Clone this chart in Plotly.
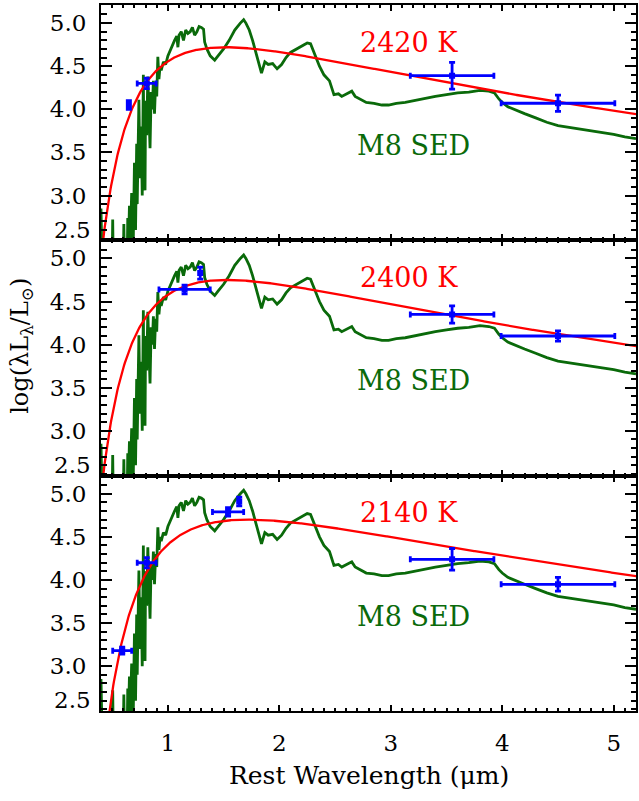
import numpy as np
import plotly.graph_objects as go
from plotly.subplots import make_subplots

# ---- M8 template spectral energy distribution (rest wavelength [micron], log lambda L_lambda) ----
sed_wave = [0.400, 0.403, 0.41, 0.50, 0.505, 0.51, 0.60, 0.605, 0.61, 0.635, 0.64, 0.645,
            0.655, 0.66, 0.675, 0.68, 0.69, 0.70, 0.71, 0.72, 0.725, 0.74, 0.75, 0.76,
            0.77, 0.78, 0.785, 0.795, 0.80, 0.81, 0.82, 0.83, 0.84, 0.85, 0.86, 0.87,
            0.88, 0.89, 0.90, 0.91, 0.92, 0.93, 0.94, 0.96, 0.98, 1.00, 1.03, 1.06,
            1.08, 1.09, 1.10, 1.12, 1.14, 1.16, 1.18, 1.20, 1.22, 1.24, 1.26, 1.28,
            1.30, 1.32, 1.33, 1.35, 1.38, 1.42, 1.45, 1.50, 1.55, 1.60, 1.65, 1.68,
            1.70, 1.73, 1.76, 1.80, 1.84, 1.87, 1.90, 1.94, 1.98, 2.02, 2.06, 2.10,
            2.15, 2.20, 2.25, 2.28, 2.32, 2.36, 2.40, 2.45, 2.49, 2.53, 2.56, 2.60,
            2.65, 2.68, 2.72, 2.78, 2.85, 2.92, 2.98, 3.05, 3.13, 3.20, 3.30, 3.40,
            3.50, 3.60, 3.70, 3.80, 3.88, 3.93, 3.97, 4.00, 4.05, 4.12, 4.20, 4.30,
            4.40, 4.50, 4.60, 4.70, 4.80, 4.90, 5.00, 5.10, 5.20]
sed_logl = [2.85, 2.30, 2.20, 2.20, 2.72, 2.20, 2.20, 2.67, 2.20, 2.20, 2.74, 2.30,
            2.88, 2.30, 3.03, 2.40, 2.50, 3.38, 2.60, 3.60, 2.90, 4.11, 3.20, 3.80,
            3.00, 4.40, 3.50, 3.06, 4.10, 3.70, 4.38, 3.90, 3.55, 4.20, 4.00, 4.33,
            3.95, 4.30, 4.15, 4.61, 4.35, 4.50, 4.45, 4.55, 4.52, 4.62, 4.72, 4.80,
            4.85, 4.72, 4.86, 4.90, 4.80, 4.92, 4.88, 4.90, 4.95, 4.86, 4.90, 4.96,
            4.95, 4.93, 4.78, 4.70, 4.62, 4.57, 4.62, 4.70, 4.80, 4.92, 5.00, 5.04,
            5.00, 4.92, 4.80, 4.62, 4.42, 4.55, 4.52, 4.53, 4.47, 4.52, 4.60, 4.66,
            4.70, 4.74, 4.77, 4.76, 4.62, 4.50, 4.40, 4.33, 4.17, 4.18, 4.15, 4.18,
            4.21, 4.15, 4.12, 4.08, 4.07, 4.05, 4.05, 4.07, 4.08, 4.10, 4.13, 4.15,
            4.17, 4.19, 4.20, 4.22, 4.21, 4.19, 4.12, 4.08, 4.03, 3.99, 3.95, 3.90,
            3.85, 3.81, 3.79, 3.77, 3.75, 3.73, 3.71, 3.68, 3.66]

# ---- blackbody fits: temperature and peak log lambda L_lambda per panel ----
bb_temps = [2420, 2400, 2140]
bb_peak = [4.72, 4.75, 4.70]

# ---- photometry per panel ----
phot_wave = [[0.65, 0.81, 3.55, 4.50],
             [1.15, 1.29, 3.55, 4.50],
             [0.59, 0.81, 1.54, 1.64, 3.55, 4.50]]
phot_logl = [[4.05, 4.30, 4.39, 4.07],
             [4.64, 4.83, 4.35, 4.10],
             [3.18, 4.20, 4.79, 4.91, 4.24, 3.95]]
phot_xerr = [[0.0, 0.085, 0.375, 0.51],
             [0.23, 0.0, 0.375, 0.51],
             [0.085, 0.085, 0.14, 0.0, 0.375, 0.51]]
phot_yerr = [[0.05, 0.06, 0.155, 0.095],
             [0.05, 0.07, 0.10, 0.06],
             [0.04, 0.06, 0.05, 0.05, 0.125, 0.08]]

y_ticks = [3.0, 3.5, 4.0, 4.5, 5.0]
y_ticktext = ["3.0", "3.5", "4.0", "4.5", "5.0"]
x_ticks = [1, 2, 3, 4, 5]

RED = "#ff0000"
GREEN = "#0a6a0a"
BLUE = "#0000ff"
FONT = "DejaVu Serif"

X_RANGE = [0.4, 5.2]
Y_RANGE = [2.48, 5.21]


def planck_log(wave_um, temp, peak):
    """log10 of lambda*B_lambda, scaled so its maximum equals `peak`."""
    x = 14387.77 / (np.asarray(wave_um) * temp)
    shape = x ** 4 / np.expm1(x)
    xp = np.linspace(3.5, 4.3, 2001)
    smax = np.max(xp ** 4 / np.expm1(xp))
    return peak + np.log10(shape / smax)


fig = make_subplots(rows=3, cols=1, shared_xaxes=True, vertical_spacing=0)

model_wave = np.linspace(0.38, 5.3, 800)

for i in range(3):
    row = i + 1
    # template spectrum
    fig.add_trace(go.Scatter(x=sed_wave, y=sed_logl, mode="lines",
                             line=dict(color=GREEN, width=2.8),
                             showlegend=False, hoverinfo="skip"), row=row, col=1)
    # blackbody
    fig.add_trace(go.Scatter(x=model_wave,
                             y=planck_log(model_wave, bb_temps[i], bb_peak[i]),
                             mode="lines", line=dict(color=RED, width=2.3),
                             showlegend=False, hoverinfo="skip"), row=row, col=1)
    # photometry with error bars
    fig.add_trace(go.Scatter(x=phot_wave[i], y=phot_logl[i], mode="markers",
                             marker=dict(color=BLUE, size=6, symbol="square"),
                             error_x=dict(type="data", array=phot_xerr[i], color=BLUE,
                                          thickness=2.8, width=3),
                             error_y=dict(type="data", array=phot_yerr[i], color=BLUE,
                                          thickness=2.8, width=3),
                             showlegend=False, hoverinfo="skip"), row=row, col=1)

    yref = "y" if row == 1 else f"y{row}"
    xref = "x" if row == 1 else f"x{row}"
    fig.add_annotation(x=3.16, y=4.78, xref=xref, yref=yref,
                       text=f"{bb_temps[i]} K", showarrow=False,
                       font=dict(family=FONT, size=27, color=RED))
    fig.add_annotation(x=3.2, y=3.58, xref=xref, yref=yref,
                       text="M8 SED", showarrow=False,
                       font=dict(family=FONT, size=27, color=GREEN))
    # bottom tick label of each panel, nudged up clear of the panel below
    fig.add_annotation(x=0, y=2.5, xref="paper", yref=yref, xanchor="right",
                       yanchor="middle", xshift=-8, yshift=9, text="2.5",
                       showarrow=False, font=dict(family=FONT, size=23, color="black"))

axis_common = dict(showline=True, linewidth=2, linecolor="black", mirror="ticks",
                   ticks="inside", tickcolor="black", showgrid=False, zeroline=False)

for row in range(1, 4):
    fig.update_xaxes(range=X_RANGE, tickvals=x_ticks, ticklen=6, tickwidth=2,
                     minor=dict(dtick=0.1, tick0=0, ticks="inside", ticklen=3,
                                tickwidth=1.5, tickcolor="black"),
                     showticklabels=(row == 3),
                     tickfont=dict(family=FONT, size=23, color="black"),
                     ticklabelstandoff=10,
                     row=row, col=1, **axis_common)
    fig.update_yaxes(range=Y_RANGE, tickvals=y_ticks, ticktext=y_ticktext,
                     ticklen=11, tickwidth=2,
                     minor=dict(dtick=0.1, tick0=0, ticks="inside", ticklen=5.5,
                                tickwidth=1.5, tickcolor="black"),
                     tickfont=dict(family=FONT, size=23, color="black"),
                     ticklabelstandoff=8,
                     row=row, col=1, **axis_common)

fig.add_annotation(x=0.5, y=-0.091, xref="paper", yref="paper",
                   text="Rest Wavelength (\u03bcm)", showarrow=False,
                   yanchor="middle",
                   font=dict(family=FONT, size=25, color="black"))
fig.add_annotation(x=-0.148, y=0.517, xref="paper", yref="paper",
                   text="log(\u03bbL<sub>\u03bb</sub>/L<sub>\u2299</sub>)",
                   textangle=-90, showarrow=False, xanchor="center", yanchor="middle",
                   font=dict(family=FONT, size=24, color="black"))

fig.update_layout(width=639, height=801,
                  margin=dict(l=101, r=1, t=5, b=90),
                  paper_bgcolor="white", plot_bgcolor="white")

fig.write_html("out.html")
